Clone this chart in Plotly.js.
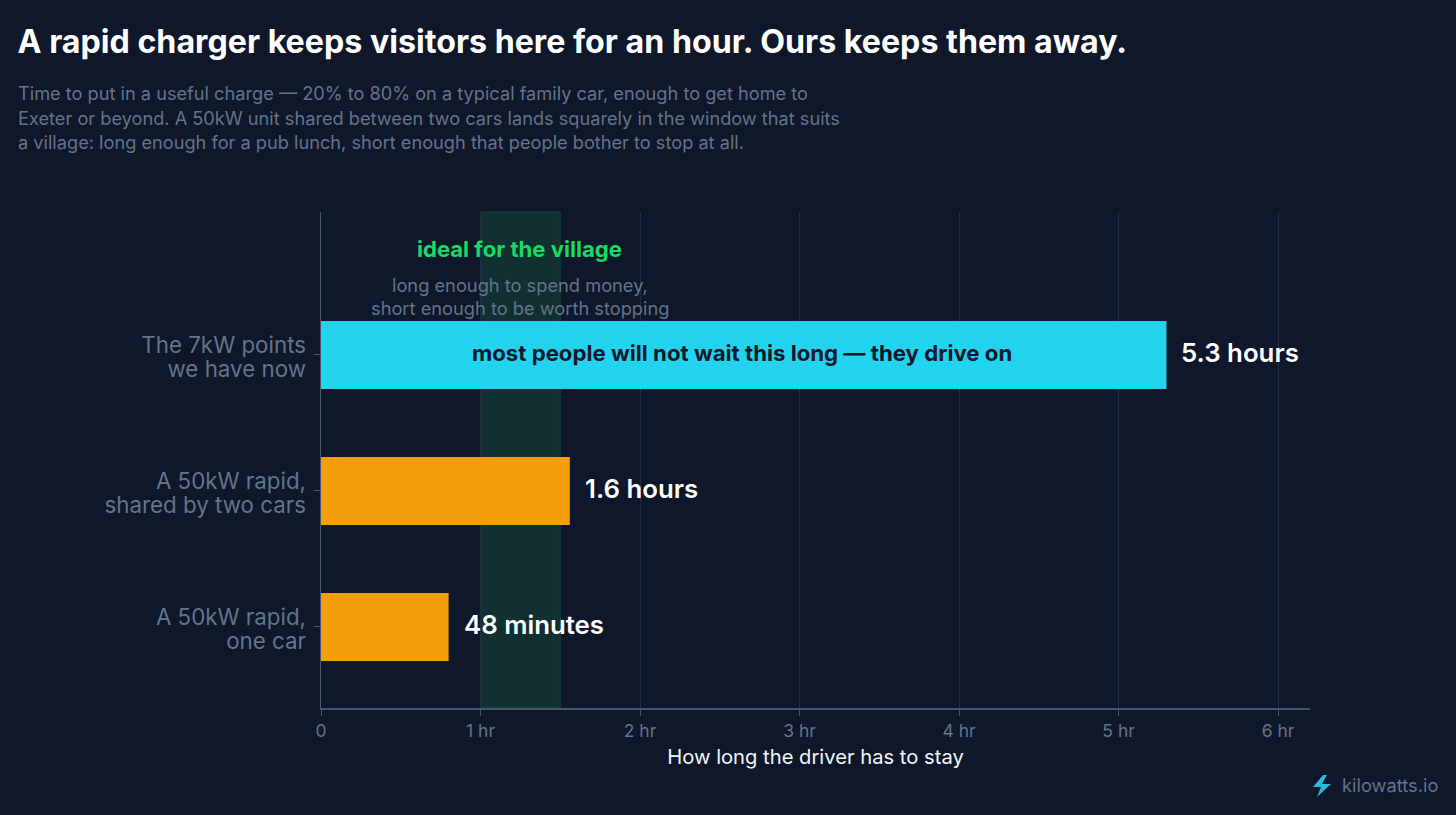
<!DOCTYPE html>
<html><head><meta charset="utf-8">
<script src="https://cdn.plot.ly/plotly-3.0.1.min.js"></script>
<style>html,body{margin:0;padding:0;background:#0f172a;overflow:hidden}#c{width:1456px;height:815px}</style>
</head><body><div id="c"></div>
<script>
const categories = ["A 50kW rapid,<br>one car", "A 50kW rapid,<br>shared by two cars", "The 7kW points<br>we have now"];
const hours = [0.8, 1.56, 5.3];
const valueLabels = ["48 minutes", "1.6 hours", "5.3 hours"];
const barColors = ["#f59e0b", "#f59e0b", "#22d3ee"];
const tickVals = [0, 1, 2, 3, 4, 5, 6];
const tickText = ["0", "1 hr", "2 hr", "3 hr", "4 hr", "5 hr", "6 hr"];
const idealBand = [1, 1.5];
const titleText = "A rapid charger keeps visitors here for an hour. Ours keeps them away.";
const subtitleLines = [
  "Time to put in a useful charge — 20% to 80% on a typical family car, enough to get home to",
  "Exeter or beyond. A 50kW unit shared between two cars lands squarely in the window that suits",
  "a village: long enough for a pub lunch, short enough that people bother to stop at all."
];
const W = 1456, H = 815, L = 321, R = 1310, T = 212, B = 708;
const px = x => (x - L) / (R - L);
const py = y => (B - y) / (B - T);
const INTER = "Inter, sans-serif";
const SLATE = "#64748b";

const bolt = [[1323,775],[1313,787],[1321,787],[1317,797],[1331,784],[1322,784],[1327,775]];
const boltPath = "M" + bolt.map(p => px(p[0]).toFixed(5) + "," + py(p[1]).toFixed(5)).join(" L") + " Z";

const annotations = [];
subtitleLines.forEach((t, i) => annotations.push({
  xref:"paper", yref:"paper", x:px(16), y:py(93.5 + i * 24), xanchor:"left", yanchor:"middle",
  text:t, showarrow:false, font:{family:INTER, size:18.2, color:SLATE}
}));
hours.forEach((v, i) => annotations.push({
  x:v, y:categories[i], xanchor:"left", yanchor:"middle", xshift:13, yshift:2,
  text:valueLabels[i], showarrow:false, font:{family:INTER, size:25.8, color:"#ffffff", weight:600}
}));
annotations.push({x:hours[2] / 2, y:categories[2], xanchor:"center", yanchor:"middle", yshift:2, xshift:-1.5,
  text:"most people will not wait this long — they drive on", showarrow:false,
  font:{family:INTER, size:22.2, color:"#0f172a", weight:700}});
annotations.push({xref:"paper", yref:"paper", x:px(519.5), y:py(249), xanchor:"center", yanchor:"middle",
  text:"ideal for the village", showarrow:false, font:{family:INTER, size:22.1, color:"#16db65", weight:700}});
annotations.push({xref:"paper", yref:"paper", x:px(520), y:py(285), xanchor:"center", yanchor:"middle",
  text:"long enough to spend money,", showarrow:false, font:{family:INTER, size:18.25, color:SLATE}});
annotations.push({xref:"paper", yref:"paper", x:px(520), y:py(308), xanchor:"center", yanchor:"middle",
  text:"short enough to be worth stopping", showarrow:false, font:{family:INTER, size:18.25, color:SLATE}});
annotations.push({xref:"paper", yref:"paper", x:px(1340), y:py(785), xanchor:"left", yanchor:"middle",
  text:"kilowatts.io", showarrow:false, font:{family:INTER, size:18.3, color:SLATE}});

Plotly.newPlot("c", [{
  type:"bar", orientation:"h", y:categories, x:hours, width:0.5,
  marker:{color:barColors, line:{width:0}}, hoverinfo:"skip"
}], {
  width:W, height:H, paper_bgcolor:"#0f172a", plot_bgcolor:"#0f172a",
  margin:{l:L, r:W - R, t:T, b:H - B, pad:0}, showlegend:false,
  title:{text:titleText, xref:"container", yref:"container", x:17.5 / W, xanchor:"left", y:1 - 41.5 / H, yanchor:"middle",
    font:{family:"Inter, sans-serif", size:32.2, color:"#ffffff", weight:700}},
  xaxis:{range:[0, 6.2], tickvals:tickVals, ticktext:tickText, ticks:"outside", ticklen:6, tickcolor:"#475569", tickwidth:1,
    tickfont:{family:INTER, size:17.5, color:SLATE}, gridcolor:"#222e43", gridwidth:1, showline:true, linecolor:"#475569", linewidth:1.5,
    zeroline:false, title:{text:"How long the driver has to stay", standoff:10, font:{family:INTER, size:20.2, color:"#f1f5f9"}}},
  yaxis:{type:"category", categoryorder:"array", categoryarray:categories, range:[-0.596, 3.051], ticks:"outside", ticklen:6, tickcolor:"#475569",
    ticklabelstandoff:3, tickfont:{family:INTER, size:22.35, color:SLATE}, showgrid:false, showline:true, linecolor:"#475569", linewidth:1.5, zeroline:false},
  shapes:[
    {type:"rect", layer:"below", xref:"x", yref:"paper", x0:idealBand[0], x1:idealBand[1], y0:0, y1:1,
     fillcolor:"rgba(34,197,94,0.15)", line:{color:"rgba(34,197,94,0.2)", width:1}},
    {type:"path", layer:"above", xref:"paper", yref:"paper", path:boltPath, fillcolor:"#2bb8d8", line:{width:0}}
  ],
  annotations
}, {displayModeBar:false, staticPlot:true}).then(() => {
  document.querySelectorAll(".ytick text tspan.line").forEach(t => {
    t.setAttribute("dy", parseFloat(t.getAttribute("dy")) > 0 ? "1.27em" : "0.2em");
  });
});
</script></body></html>
